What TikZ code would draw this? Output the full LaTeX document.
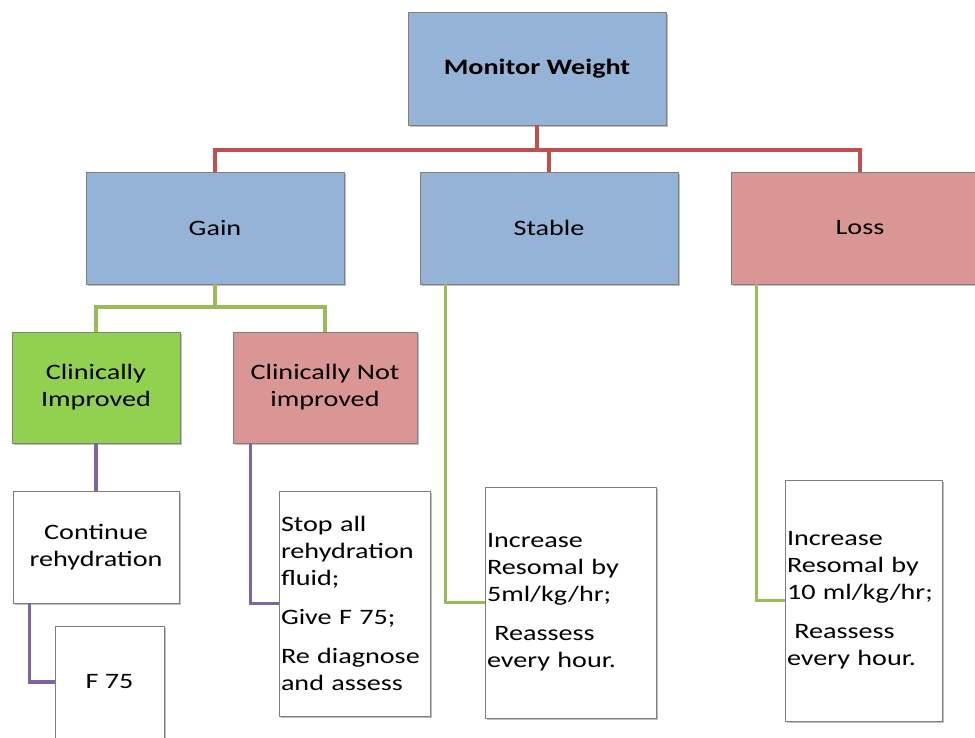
\documentclass[tikz,border=0pt]{standalone}
\usepackage{fontspec}
\setmainfont{Carlito}[FakeStretch=1.28]
\usetikzlibrary{shadows}
\definecolor{BoxBlue}{RGB}{149, 179, 215}
\definecolor{BoxRose}{RGB}{217, 150, 148}
\definecolor{BoxGreen}{RGB}{146, 208, 80}
\definecolor{LinkRed}{RGB}{192, 80, 77}
\definecolor{LinkGreen}{RGB}{155, 187, 89}
\definecolor{LinkViolet}{RGB}{128, 100, 162}
\definecolor{BoxEdge}{RGB}{127, 127, 127}

\begin{document}
\begin{tikzpicture}[x=1pt, y=-1pt]
      \tikzstyle{box}=[draw=BoxEdge, line width=.8pt, rectangle, inner xsep=2pt, inner ysep=0pt,
        font=\fontsize{22}{27}\selectfont,
        drop shadow={shadow xshift=1.5pt, shadow yshift=-2pt, fill=black, opacity=.25}];
      \tikzstyle{redlink}=[LinkRed, line width=3.5pt];
      \tikzstyle{greenlink}=[LinkGreen, line width=3.5pt];
      \tikzstyle{violetlink}=[LinkViolet, line width=3.5pt];

      \clip (0, 0) rectangle (975, 737);
      \useasboundingbox (0, 0) rectangle (975, 737);

      % top two rows
      \node[box, fill=BoxBlue, minimum width=258pt, minimum height=113pt, font=\fontsize{22}{27}\selectfont\bfseries] (mw) at (537, 68.5) {Monitor Weight};
      \node[box, fill=BoxBlue, minimum width=258pt, minimum height=112pt] (gain) at (215, 228) {Gain};
      \node[box, fill=BoxBlue, minimum width=258pt, minimum height=112pt] (stable) at (549, 228) {Stable};
      \node[box, fill=BoxRose, minimum width=258pt, minimum height=112pt] (loss) at (860, 228) {Loss};

      \node[box, fill=BoxGreen, minimum width=168pt, minimum height=111pt, align=center] (ci) at (96, 387.5) {Clinically\\Improved};
      \node[box, fill=BoxRose, minimum width=184pt, minimum height=111pt, align=center] (cni) at (325, 387.5) {Clinically Not\\improved};

      % white boxes
      \node[box, fill=white, minimum width=166pt, minimum height=112pt, align=center] (cont) at (96, 547) {Continue\\rehydration};
      \node[box, fill=white, minimum width=109pt, minimum height=112pt] (f75) at (109.5, 682) {F 75};
      \node[box, fill=white, minimum height=225pt, text width=147pt, align=left] (stop) at (354.5, 603.5)
        {Stop all\\rehydration\\fluid;\\[12pt]Give F 75;\\[12pt]Re diagnose\\and assess};
      \node[box, fill=white, minimum height=231pt, text width=167pt, align=left] (stabc) at (570.5, 602.5)
        {Increase\\Resomal by\\5ml/kg/hr;\\[12pt]\ Reassess\\every hour.};
      \node[box, fill=white, minimum height=241pt, text width=153pt, align=left] (lossc) at (863.5, 600.5)
        {Increase\\Resomal by\\10 ml/kg/hr;\\[12pt]\ Reassess\\every hour.};

      \coordinate (rbus) at (0, 150);
      \coordinate (gbus) at (0, 307);

      \draw[redlink] (mw.south) -- (mw.south |- rbus);
      \draw[redlink] (gain.north) |- (loss.north |- rbus) -- (loss.north);
      \draw[redlink] (stable.north) -- (stable.north |- rbus);

      \draw[greenlink] (gain.south) -- (gain.south |- gbus);
      \draw[greenlink] (ci.north) |- (cni.north |- gbus) -- (cni.north);
      \draw[greenlink] ([xshift=26pt]stable.south west) |- (stabc.west);
      \draw[greenlink] ([xshift=26pt]loss.south west) |- (lossc.west);

      \draw[violetlink] (ci.south) -- (cont.north);
      \draw[violetlink] ([xshift=18pt]cni.south west) |- (stop.west);
      \draw[violetlink] ([xshift=17pt]cont.south west) |- (f75.west);
\end{tikzpicture}
\end{document}
